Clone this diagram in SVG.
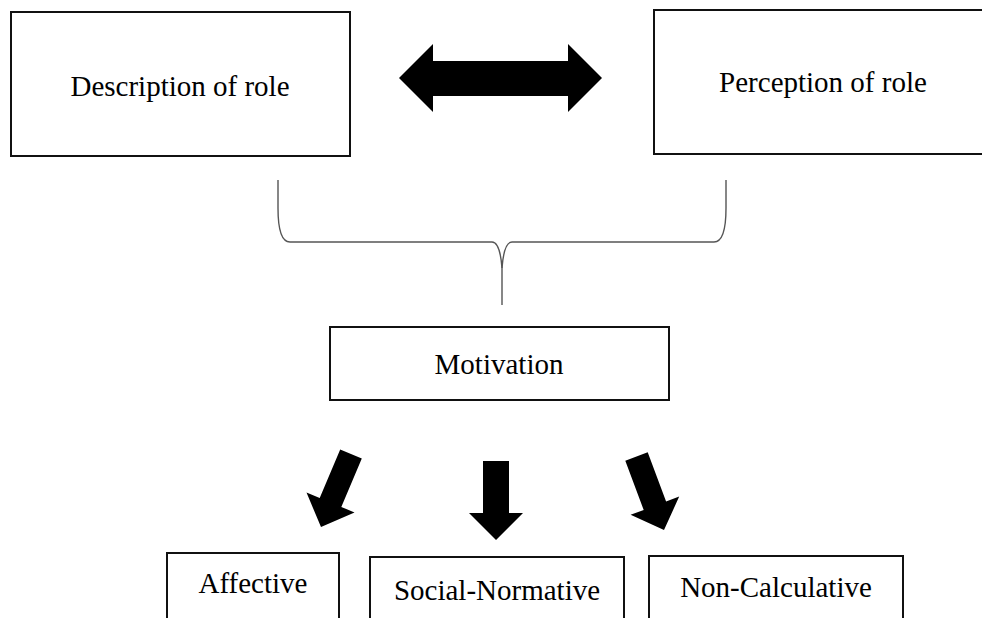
<svg xmlns="http://www.w3.org/2000/svg" width="982" height="618" viewBox="0 0 982 618">
<style>
.box{fill:#fff;stroke:#111;stroke-width:2}
.lbl{font-family:"Liberation Serif","Times New Roman",serif;font-size:29px;fill:#000;text-anchor:middle}
.arr{fill:#000;stroke:none}
.brace{fill:none;stroke:#555;stroke-width:1.4}
</style>
<rect width="982" height="618" fill="#fff"/>
<g id="description">
<rect class="box" x="11" y="12" width="339" height="144"/>
<text class="lbl" x="180" y="96">Description of role</text>
</g>
<g id="perception">
<rect class="box" x="654" y="10" width="340" height="144"/>
<text class="lbl" x="823" y="92">Perception of role</text>
</g>
<g id="motivation">
<rect class="box" x="330" y="327" width="339" height="73"/>
<text class="lbl" x="499" y="374">Motivation</text>
</g>
<g id="affective">
<rect class="box" x="167" y="553" width="172" height="80"/>
<text class="lbl" x="253" y="593">Affective</text>
</g>
<g id="social-normative">
<rect class="box" x="370" y="557" width="254" height="80"/>
<text class="lbl" x="497" y="600">Social-Normative</text>
</g>
<g id="non-calculative">
<rect class="box" x="649" y="556" width="254" height="80"/>
<text class="lbl" x="776" y="597">Non-Calculative</text>
</g>
<g id="connectors">
<polygon class="arr" points="399,78 433,44 433,61 568,61 568,44 602,78 568,112 568,96 433,96 433,112"/>
<path class="brace" d="M278,180 L278,208 Q278,242 290,242 L492,242 Q500,242 502,268 L502,305"/>
<path class="brace" d="M726,180 L726,208 Q726,242 714,242 L512,242 Q504,242 502,268"/>
<polygon class="arr" points="340.2,449.6 361.8,458.4 341.3,506.9 354.5,512.4 321,527 306.5,492.6 319.7,498.1"/>
<polygon class="arr" points="483,461 509,461 509,513 523,513 496,540 469,513 483,513"/>
<polygon class="arr" points="625.3,460.7 647.7,452.3 666.1,501.5 679.2,496.6 664,530 630.6,514.8 643.7,509.9"/>
</g>
</svg>
